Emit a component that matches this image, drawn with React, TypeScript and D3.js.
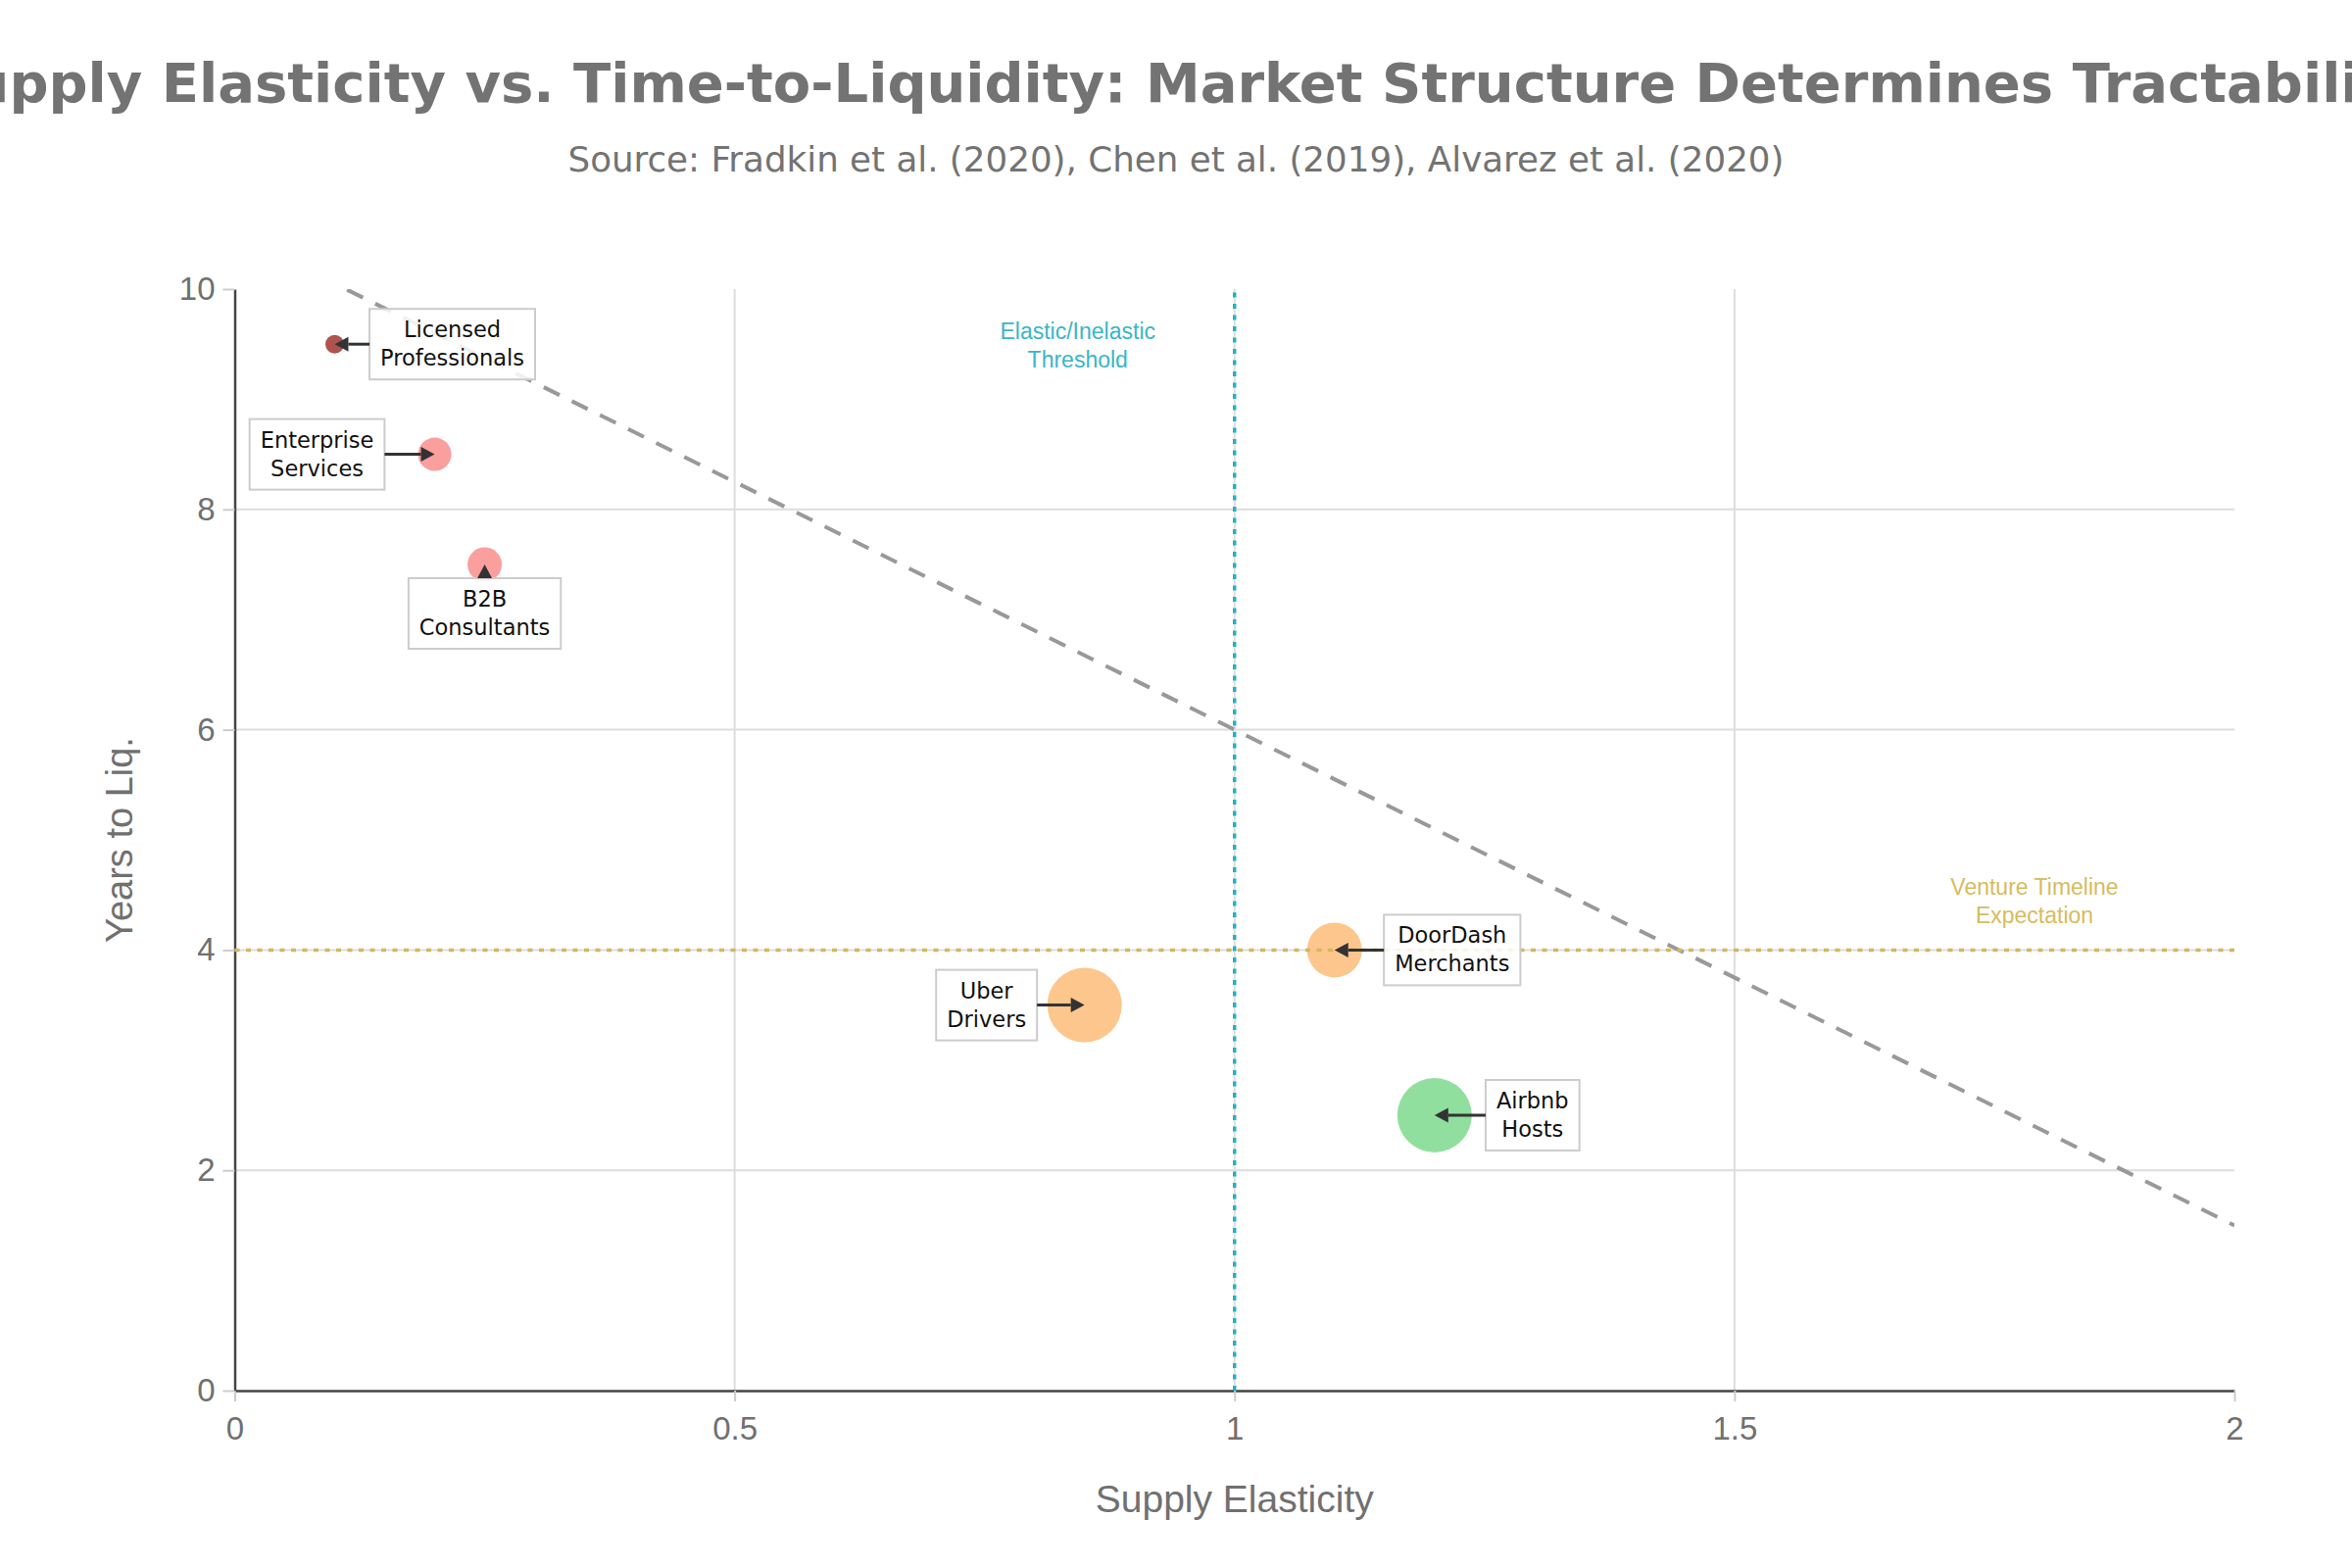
import React, { useEffect, useRef } from 'react';
import * as d3 from 'd3';

// market segments (two-line labels as drawn in the boxes)
const segments = [
  ['Licensed', 'Professionals'],
  ['Enterprise', 'Services'],
  ['B2B', 'Consultants'],
  ['Uber', 'Drivers'],
  ['DoorDash', 'Merchants'],
  ['Airbnb', 'Hosts'],
];
const supplyElasticity = [0.1, 0.2, 0.25, 0.85, 1.1, 1.2];
const yearsToLiquidity = [9.5, 8.5, 7.5, 3.5, 4, 2.5];
const marketSize = [9.5, 17, 17.5, 38, 28, 38];
const tractability = ['regulated', 'low', 'low', 'medium', 'medium', 'high'];

// fitted trend, clipped to the plot area
const trendElasticity = [0, 2];
const trendYears = [10.5, 1.5];

const elasticThreshold = 1;
const ventureYears = 4;

const xTicks = [0, 0.5, 1, 1.5, 2];
const yTicks = [0, 2, 4, 6, 8, 10];

const tierColor: Record<string, string> = {
  regulated: '#A64541',
  low: '#FA9696',
  medium: '#FDC182',
  high: '#88DC96',
};

// pixel offset of each label box from its point
const labelOffsets = [
  [120, 0],
  [-120, 0],
  [0, 50],
  [-100, 0],
  [120, 0],
  [100, 0],
];

const SANS = '"Liberation Sans", Arial, sans-serif';
const DEJAVU = '"DejaVu Sans", sans-serif';
const GREY = '#707070';
const TEAL = '#22B3C1';
const GOLD = '#D4B85A';

const App: React.FC = () => {
  const svgRef = useRef<SVGSVGElement>(null);

  useEffect(() => {
    if (!svgRef.current) return;
    const svg = d3.select(svgRef.current);
    svg.selectAll('*').remove();

    const width = 2400;
    const height = 1600;
    const margin = { top: 295, right: 120, bottom: 181, left: 239.5 };

    const x = d3.scaleLinear().domain([0, 2]).range([margin.left, width - margin.right]);
    const y = d3.scaleLinear().domain([0, 10]).range([height - margin.bottom, margin.top]);
    const r = d3.scaleLinear().domain([0, 38]).range([0, 38]);

    svg
      .append('clipPath')
      .attr('id', 'plot-clip')
      .append('rect')
      .attr('x', x(0))
      .attr('y', y(10))
      .attr('width', x(2) - x(0))
      .attr('height', y(0) - y(10));

    // titles
    svg
      .append('text')
      .attr('x', 1200)
      .attr('y', 104)
      .attr('text-anchor', 'middle')
      .attr('font-family', DEJAVU)
      .attr('font-weight', 'bold')
      .attr('font-size', 56)
      .attr('fill', '#737373')
      .text('Supply Elasticity vs. Time-to-Liquidity: Market Structure Determines Tractability');

    svg
      .append('text')
      .attr('x', 1200)
      .attr('y', 175)
      .attr('text-anchor', 'middle')
      .attr('font-family', DEJAVU)
      .attr('font-size', 35.7)
      .attr('fill', '#737373')
      .text('Source: Fradkin et al. (2020), Chen et al. (2019), Alvarez et al. (2020)');

    // grid
    const grid = svg.append('g');
    grid
      .selectAll('line.vx')
      .data(xTicks.filter((d) => d > 0 && d < 2))
      .enter()
      .append('line')
      .attr('x1', (d) => x(d))
      .attr('x2', (d) => x(d))
      .attr('y1', y(0))
      .attr('y2', y(10))
      .attr('stroke', '#dddddd')
      .attr('stroke-width', 2);
    grid
      .selectAll('line.hy')
      .data(yTicks.filter((d) => d > 0 && d < 10))
      .enter()
      .append('line')
      .attr('x1', x(0))
      .attr('x2', x(2))
      .attr('y1', (d) => y(d))
      .attr('y2', (d) => y(d))
      .attr('stroke', '#dddddd')
      .attr('stroke-width', 2);

    // axes
    const xAxis = svg
      .append('g')
      .attr('transform', `translate(0,${y(0)})`)
      .call(
        d3
          .axisBottom(x)
          .tickValues(xTicks)
          .tickFormat((d) => String(d))
          .tickSize(11)
          .tickSizeOuter(0)
          .tickPadding(16)
      );
    const yAxis = svg
      .append('g')
      .attr('transform', `translate(${x(0)},0)`)
      .call(
        d3
          .axisLeft(y)
          .tickValues(yTicks)
          .tickFormat((d) => String(d))
          .tickSize(12)
          .tickSizeOuter(0)
          .tickPadding(8)
      );
    [xAxis, yAxis].forEach((ax) => {
      ax.select('.domain').attr('stroke', '#444').attr('stroke-width', 2.5);
      ax.selectAll('.tick line').attr('stroke', '#cccccc').attr('stroke-width', 2);
      ax.selectAll('.tick text')
        .attr('fill', GREY)
        .attr('font-family', SANS)
        .attr('font-size', 33);
    });

    svg
      .append('text')
      .attr('x', (x(0) + x(2)) / 2)
      .attr('y', 1543)
      .attr('text-anchor', 'middle')
      .attr('font-family', SANS)
      .attr('font-size', 39)
      .attr('fill', GREY)
      .text('Supply Elasticity');

    svg
      .append('text')
      .attr('transform', `translate(135,${(y(0) + y(10)) / 2}) rotate(-90)`)
      .attr('text-anchor', 'middle')
      .attr('font-family', SANS)
      .attr('font-size', 38)
      .attr('fill', GREY)
      .text('Years to Liq.');

    // bubbles
    const points = segments.map((s, i) => ({
      label: s,
      x: x(supplyElasticity[i]),
      y: y(yearsToLiquidity[i]),
      r: r(marketSize[i]),
      color: tierColor[tractability[i]],
      offset: labelOffsets[i],
    }));

    svg
      .append('g')
      .selectAll('circle')
      .data(points)
      .enter()
      .append('circle')
      .attr('cx', (d) => d.x)
      .attr('cy', (d) => d.y)
      .attr('r', (d) => d.r)
      .attr('fill', (d) => d.color)
      .attr('fill-opacity', 0.92);

    // reference lines
    const line = d3
      .line<number>()
      .x((d) => x(d))
      .y((_, i) => y(trendYears[i]));
    svg
      .append('path')
      .attr('d', line(trendElasticity))
      .attr('clip-path', 'url(#plot-clip)')
      .attr('fill', 'none')
      .attr('stroke', '#999')
      .attr('stroke-width', 4)
      .attr('stroke-dasharray', '18,14');

    svg
      .append('line')
      .attr('x1', x(elasticThreshold))
      .attr('x2', x(elasticThreshold))
      .attr('y1', y(0))
      .attr('y2', y(10))
      .attr('stroke', TEAL)
      .attr('stroke-width', 3.5)
      .attr('stroke-dasharray', '5,6.5');

    svg
      .append('line')
      .attr('x1', x(0))
      .attr('x2', x(2))
      .attr('y1', y(ventureYears))
      .attr('y2', y(ventureYears))
      .attr('stroke', GOLD)
      .attr('stroke-width', 3.5)
      .attr('stroke-dasharray', '5,6.5');

    const refLabel = (lines: string[], cx: number, baseY: number, color: string) => {
      lines.forEach((t, i) => {
        svg
          .append('text')
          .attr('x', cx)
          .attr('y', baseY + i * 29)
          .attr('text-anchor', 'middle')
          .attr('font-family', SANS)
          .attr('font-size', 23)
          .attr('fill', color)
          .text(t);
      });
    };
    refLabel(['Elastic/Inelastic', 'Threshold'], x(elasticThreshold) - 160, 346, '#3AB6C6');
    refLabel(['Venture Timeline', 'Expectation'], 2076, 913, '#D6BC5E');

    // label boxes with arrows
    const ann = svg.append('g');
    points.forEach((p) => {
      const cx = p.x + p.offset[0];
      const cy = p.y + p.offset[1];
      const g = ann.append('g');
      const texts = p.label.map((t, i) =>
        g
          .append('text')
          .attr('x', cx)
          .attr('y', cy - 7 + i * 29)
          .attr('text-anchor', 'middle')
          .attr('font-family', DEJAVU)
          .attr('font-size', 22.5)
          .attr('fill', '#111')
          .text(t)
      );
      const tw = d3.max(texts, (t) => (t.node() as SVGTextElement).getComputedTextLength()) || 0;
      const halfW = tw / 2 + 11;
      const halfH = 36;
      g.insert('rect', 'text')
        .attr('x', cx - halfW)
        .attr('y', cy - halfH)
        .attr('width', halfW * 2)
        .attr('height', halfH * 2)
        .attr('fill', 'rgba(255,255,255,0.85)')
        .attr('stroke', '#cccccc')
        .attr('stroke-width', 2);

      const dx = p.x - cx;
      const dy = p.y - cy;
      const t = Math.min(dx ? halfW / Math.abs(dx) : Infinity, dy ? halfH / Math.abs(dy) : Infinity);
      const sx = cx + dx * t;
      const sy = cy + dy * t;
      const len = Math.hypot(p.x - sx, p.y - sy);
      const ux = (p.x - sx) / len;
      const uy = (p.y - sy) / len;
      const head = 14;
      const hw = 7.5;
      const bx = p.x - ux * head;
      const by = p.y - uy * head;
      if (len > head) {
        ann
          .append('line')
          .attr('x1', sx)
          .attr('y1', sy)
          .attr('x2', bx)
          .attr('y2', by)
          .attr('stroke', '#333')
          .attr('stroke-width', 3);
      }
      ann
        .append('path')
        .attr(
          'd',
          `M${p.x},${p.y}L${bx - uy * hw},${by + ux * hw}L${bx + uy * hw},${by - ux * hw}Z`
        )
        .attr('fill', '#333');
    });
  }, []);

  return (
    <svg
      ref={svgRef}
      width={2400}
      height={1600}
      style={{ position: 'absolute', left: 0, top: 0, background: '#fff' }}
    />
  );
};

export default App;
